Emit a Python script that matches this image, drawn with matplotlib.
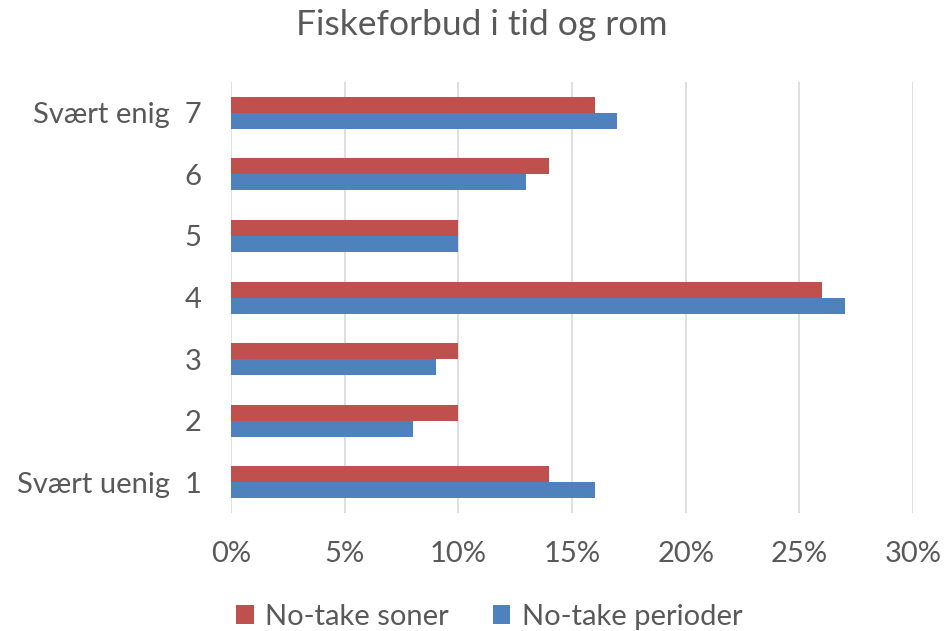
import matplotlib.pyplot as plt
import numpy as np

plt.rcParams['font.family'] = ['Lato', 'DejaVu Sans']

# data (percent)
categories = ["Svært uenig  1", "2", "3", "4", "5", "6", "Svært enig  7"]
soner = [14, 10, 10, 26, 10, 14, 16]
perioder = [16, 8, 9, 27, 10, 13, 17]
xticks = [0, 5, 10, 15, 20, 25, 30]

red = "#C0504D"
blue = "#4F81BD"
grey = "#595959"

fig = plt.figure(figsize=(9.45, 6.31), dpi=100)
ax = fig.add_axes([0.2444, 0.187, 0.7217, 0.683])

y = np.arange(1, len(categories) + 1)
h = 0.26
ax.barh(y + h / 2, soner, height=h, color=red, label="No-take soner", zorder=3)
ax.barh(y - h / 2, perioder, height=h, color=blue, label="No-take perioder", zorder=3)

ax.set_xlim(0, 30)
ax.set_ylim(0.5, 7.5)
ax.set_xticks(xticks)
ax.set_xticklabels([f"{v}%" for v in xticks])
ax.set_yticks(y)
ax.set_yticklabels(categories)
ax.tick_params(axis='both', length=0, labelsize=21, labelcolor=grey)
ax.tick_params(axis='x', pad=20)
ax.tick_params(axis='y', pad=21)
ax.grid(axis='x', color='#D9D9D9', linewidth=1.2, zorder=0)
for s in ax.spines.values():
    s.set_visible(False)

fig.suptitle("Fiskeforbud i tid og rom", x=0.51, y=0.985, fontsize=25.5, color=grey)
fig.legend(loc='lower center', bbox_to_anchor=(0.518, -0.04), ncol=2, frameon=False,
           fontsize=21, labelcolor=grey, handlelength=0.6, handleheight=0.6,
           handletextpad=0.4, columnspacing=1.5)

fig.savefig("out.png", dpi=100)
